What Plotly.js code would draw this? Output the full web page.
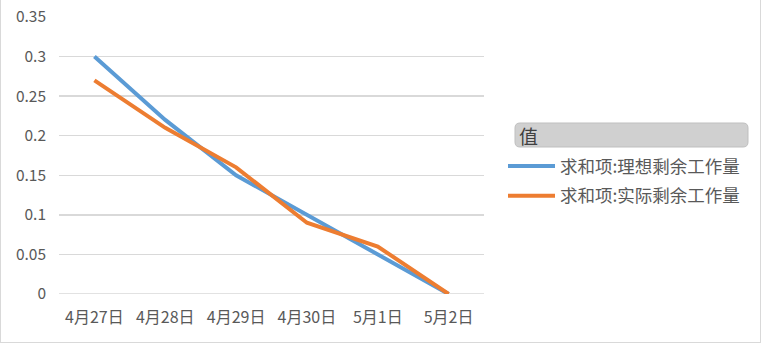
<!DOCTYPE html>
<html><head><meta charset="utf-8">
<script src="https://cdn.plot.ly/plotly-3.0.1.min.js"></script>
<style>html,body{margin:0;padding:0;background:#fff}
#wrap{width:761px;height:343px;box-sizing:border-box;border:1px solid #d9d9d9;border-top:none;position:relative;overflow:hidden}
#chart{position:absolute;left:-1px;top:0;width:761px;height:343px}</style>
</head><body><div id="wrap"><div id="chart"></div></div>
<script>
const categories = ['4月27日','4月28日','4月29日','4月30日','5月1日','5月2日'];
const idealRemaining = [0.30, 0.22, 0.15, 0.10, 0.05, 0];
const actualRemaining = [0.27, 0.21, 0.16, 0.09, 0.06, 0];
const seriesNames = ['求和项:理想剩余工作量','求和项:实际剩余工作量'];
const legendTitle = '值';
const yTicks = [0,0.05,0.1,0.15,0.2,0.25,0.3,0.35];
const yTickText = ['0','0.05','0.1','0.15','0.2','0.25','0.3','0.35'];

const L=59,R=484,T=17,B=294;
const px = x => (x-L)/(R-L);
const py = y => (B-y)/(B-T);
function roundRect(x0,y0,x1,y1,r){
  return `M${px(x0+r)},${py(y0)} L${px(x1-r)},${py(y0)} Q${px(x1)},${py(y0)} ${px(x1)},${py(y0+r)} L${px(x1)},${py(y1-r)} Q${px(x1)},${py(y1)} ${px(x1-r)},${py(y1)} L${px(x0+r)},${py(y1)} Q${px(x0)},${py(y1)} ${px(x0)},${py(y1-r)} L${px(x0)},${py(y0+r)} Q${px(x0)},${py(y0)} ${px(x0+r)},${py(y0)} Z`;
}
const font = "'Noto Sans CJK SC', 'Microsoft YaHei', sans-serif";
const data = [
  {x: categories, y: idealRemaining, name: seriesNames[0], type:'scatter', mode:'lines',
   line:{color:'#5b9bd5', width:4}, legendgroup:'a'},
  {x: categories, y: actualRemaining, name: seriesNames[1], type:'scatter', mode:'lines',
   line:{color:'#ed7d31', width:4}, legendgroup:'b'}
];
const layout = {
  width:761, height:343,
  margin:{l:L, r:761-R, t:T, b:343-B, pad:0},
  paper_bgcolor:'rgba(0,0,0,0)', plot_bgcolor:'#fff',
  font:{family:font, color:'#595959', size:15.5},
  showlegend:true,
  legend:{x:px(503), y:py(148), xanchor:'left', yanchor:'top', font:{size:17.5, color:'#595959', family:font},
    bgcolor:'rgba(0,0,0,0)', tracegroupgap:4, itemwidth:47},
  xaxis:{type:'category', range:[-0.5,5.5], showgrid:false, showline:false, zeroline:false,
    ticks:'', tickfont:{size:16, color:'#595959'}, ticklabelstandoff:12, fixedrange:true},
  yaxis:{range:[0,0.35], tickvals:yTicks, ticktext:yTickText, showgrid:true, gridcolor:'#d9d9d9', gridwidth:1.5,
    zeroline:false, showline:false, ticks:'', tickfont:{size:15.5, color:'#595959'}, ticklabelstandoff:12, fixedrange:true},
  shapes:[
    {type:'line', xref:'paper', yref:'y', x0:0, x1:1, y0:0, y1:0, line:{color:'#d9d9d9', width:1.5}, layer:'below'},
    {type:'path', xref:'paper', yref:'paper', path: roundRect(515,123,748,147,5),
     fillcolor:'#d0d0d0', line:{color:'#bfbfbf', width:1}, layer:'above'}
  ],
  annotations:[
    {xref:'paper', yref:'paper', x:px(517), y:py(135), xanchor:'left', yanchor:'middle', showarrow:false,
     text:legendTitle, font:{size:19, color:'#404040', family:font}}
  ]
};
Plotly.newPlot('chart', data, layout, {displayModeBar:false, staticPlot:true});
</script></body></html>
